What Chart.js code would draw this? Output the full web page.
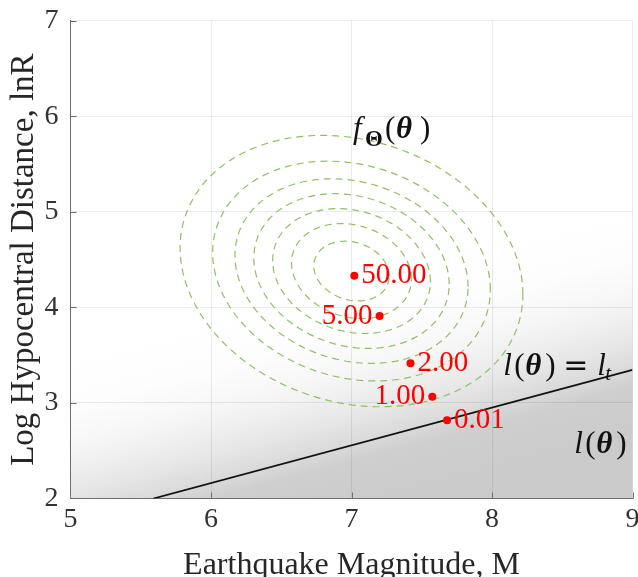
<!DOCTYPE html>
<html>
<head>
<meta charset="utf-8">
<script src="https://cdn.jsdelivr.net/npm/chart.js@4.4.1/dist/chart.umd.min.js"></script>
<style>
  html, body { margin: 0; padding: 0; background: #fff; }
</style>
</head>
<body>
<canvas id="Graph" width="638" height="577"></canvas>
<script>
// axis ranges
const xRange = [5, 9];
const yRange = [2, 7];

// limit-state line l(theta) = l_t, end points in (M, lnR)
const limitM = [5.59, 9.0];
const limitLnR = [2.0, 3.345];

// points on the path towards the limit state, with their l values
const pointM = [7.02, 7.20, 7.42, 7.575, 7.68];
const pointLnR = [4.33, 3.91, 3.415, 3.065, 2.82];
const pointLabels = ['50.00', '5.00', '2.00', '1.00', '0.01'];

// joint density f_Theta: mean, half extents of the outer contour, correlation
const densityMean = [7.00, 4.38];
const outerHalfM = 1.22;
const outerHalfLnR = 1.42;
const densityRho = -0.17;
// size of each dashed contour relative to the outer one
const contourScale = [1.0, 0.81, 0.68, 0.57, 0.46, 0.35, 0.22];

const SERIF = '"Liberation Serif", "Times New Roman", serif';

function contourPoints(s) {
    const pts = [];
    const n = 144;
    const k = Math.sqrt(1 - densityRho * densityRho);
    for (let i = 0; i <= n; i++) {
        const t = 2 * Math.PI * i / n;
        pts.push({
            x: densityMean[0] + s * outerHalfM * Math.cos(t),
            y: densityMean[1] + s * outerHalfLnR * (densityRho * Math.cos(t) + k * Math.sin(t))
        });
    }
    return pts;
}

// grey field, darkening across the limit-state line
const shadingPlugin = {
    id: 'shading',
    beforeDraw(chart) {
        const { ctx, chartArea: area, scales: { x, y } } = chart;
        const px0 = x.getPixelForValue(limitM[0]), py0 = y.getPixelForValue(limitLnR[0]);
        const px1 = x.getPixelForValue(limitM[1]), py1 = y.getPixelForValue(limitLnR[1]);
        const len = Math.hypot(px1 - px0, py1 - py0);
        const nx = -(py1 - py0) / len, ny = (px1 - px0) / len; // towards the lower side
        const above = 160, below = 60;
        const g = ctx.createLinearGradient(px0 - nx * above, py0 - ny * above, px0 + nx * below, py0 + ny * below);
        const f = d => (above - d) / (above + below);
        g.addColorStop(0, '#ffffff');
        g.addColorStop(f(110), '#fdfdfd');
        g.addColorStop(f(70), '#f6f6f6');
        g.addColorStop(f(30), '#e8e8e8');
        g.addColorStop(f(0), '#d9d9d9');
        g.addColorStop(f(-15), '#cfcfcf');
        g.addColorStop(1, '#cbcbcb');
        ctx.save();
        ctx.fillStyle = g;
        ctx.fillRect(area.left, area.top, area.width, area.height);
        ctx.restore();
    }
};

// draw a run of glyphs; each piece is [text, font, dx, dy]
function drawRuns(ctx, x0, y0, runs, color) {
    ctx.fillStyle = color;
    ctx.textBaseline = 'alphabetic';
    ctx.textAlign = 'left';
    runs.forEach(([t, font, dx, dy]) => {
        ctx.font = font;
        ctx.fillText(t, x0 + dx, y0 + (dy || 0));
    });
}

const annotationPlugin = {
    id: 'annotations',
    afterDatasetsDraw(chart) {
        const { ctx, chartArea: area, scales: { x, y } } = chart;
        ctx.save();

        // inward tick marks
        ctx.strokeStyle = '#6e6e6e';
        ctx.lineWidth = 1;
        ctx.beginPath();
        x.ticks.forEach(t => {
            if (t.value === xRange[0]) return;
            const px = Math.round(x.getPixelForValue(t.value)) + 0.5;
            ctx.moveTo(px, area.bottom);
            ctx.lineTo(px, area.bottom - 6);
        });
        y.ticks.forEach(t => {
            if (t.value === yRange[0]) return;
            const py = Math.round(y.getPixelForValue(t.value)) + 0.5;
            ctx.moveTo(area.left, py);
            ctx.lineTo(area.left + 6, py);
        });
        ctx.stroke();

        // point labels
        const meta = chart.getDatasetMeta(0);
        const sides = [1, -1, 1, -1, 1];
        ctx.fillStyle = '#ff0000';
        ctx.font = '29px ' + SERIF;
        ctx.textBaseline = 'middle';
        meta.data.forEach((el, i) => {
            ctx.textAlign = sides[i] > 0 ? 'left' : 'right';
            ctx.fillText(pointLabels[i], el.x + sides[i] * 7, el.y);
        });

        // math annotations
        const it = 'italic 31px ' + SERIF;
        const up = '31px ' + SERIF;
        const bi = 'italic bold 31px ' + SERIF;
        drawRuns(ctx, x.getPixelForValue(7.01), y.getPixelForValue(5.77), [
            ['f', it, 0, 0],
            ['\u0398', 'bold 23px ' + SERIF, 12, 8],
            ['(', up, 32, 0],
            ['\u03b8', bi, 43, 0],
            [')', up, 67, 0]
        ], '#111');
        const lTheta = [
            ['l', it, 0, 0],
            ['(', up, 11, 0],
            ['\u03b8', bi, 22, 0],
            [')', up, 42, 0]
        ];
        drawRuns(ctx, x.getPixelForValue(8.08), y.getPixelForValue(3.29), lTheta.concat([
            ['=', '30px "DejaVu Sans", sans-serif', 60, 0],
            ['l', it, 94, 0],
            ['t', 'italic 21px ' + SERIF, 102, 5]
        ]), '#111');
        drawRuns(ctx, x.getPixelForValue(8.585), y.getPixelForValue(2.476), lTheta, '#111');

        ctx.restore();
    }
};

const contourSets = contourScale.map(s => ({
    data: contourPoints(s),
    showLine: true,
    borderColor: '#8fc15e',
    borderWidth: 1.2,
    borderDash: [7, 5],
    pointRadius: 0,
    tension: 0
}));

const ctx = document.getElementById('Graph').getContext('2d');
new Chart(ctx, {
    type: 'scatter',
    data: {
        datasets: [
            {
                data: pointM.map((m, i) => ({ x: m, y: pointLnR[i] })),
                pointRadius: 4,
                pointBackgroundColor: '#ff0000',
                pointBorderWidth: 0,
                showLine: false
            },
            {
                data: limitM.map((m, i) => ({ x: m, y: limitLnR[i] })),
                showLine: true,
                borderColor: '#111111',
                borderWidth: 1.8,
                pointRadius: 0
            },
            ...contourSets
        ]
    },
    options: {
        responsive: false,
        animation: false,
        layout: { padding: { left: 0, right: 5.5, top: 20.7, bottom: 0 } },
        plugins: { legend: { display: false }, tooltip: { enabled: false } },
        scales: {
            x: {
                type: 'linear',
                min: xRange[0],
                max: xRange[1],
                ticks: { stepSize: 1, color: '#333', padding: 4, font: { family: SERIF, size: 28 } },
                grid: { color: 'rgba(0, 0, 0, 0.08)', drawTicks: false },
                border: { color: '#6e6e6e' },
                title: {
                    display: true,
                    text: 'Earthquake Magnitude, M',
                    color: '#262626',
                    padding: { top: 0, bottom: 0 },
                    font: { family: SERIF, size: 32, lineHeight: 0.7 }
                },
                afterFit(scale) {
                    scale.height = 78.5;
                    scale.paddingLeft = 0;
                    scale.paddingRight = 0;
                }
            },
            y: {
                type: 'linear',
                min: yRange[0],
                max: yRange[1],
                ticks: { stepSize: 1, color: '#333', padding: 12, font: { family: SERIF, size: 28 } },
                grid: { color: 'rgba(0, 0, 0, 0.08)', drawTicks: false },
                border: { color: '#6e6e6e' },
                title: {
                    display: true,
                    text: 'Log Hypocentral Distance, lnR',
                    color: '#262626',
                    padding: { top: 5, bottom: 0 },
                    font: { family: SERIF, size: 33 }
                },
                afterFit(scale) {
                    scale.width = 70.5;
                    scale.paddingTop = 0;
                    scale.paddingBottom = 0;
                }
            }
        }
    },
    plugins: [shadingPlugin, annotationPlugin]
});
</script>
</body>
</html>
